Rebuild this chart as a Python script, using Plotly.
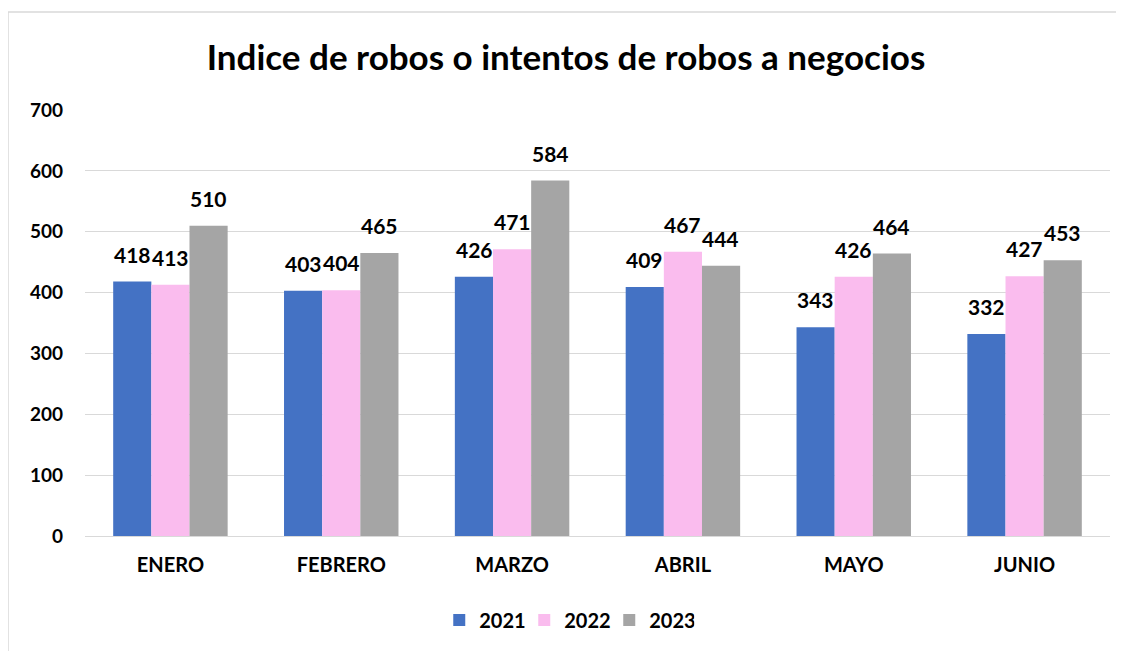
import plotly.graph_objects as go

meses = ['ENERO', 'FEBRERO', 'MARZO', 'ABRIL', 'MAYO', 'JUNIO']
robos_2021 = [418, 403, 426, 409, 343, 332]
robos_2022 = [413, 404, 471, 467, 426, 427]
robos_2023 = [510, 465, 584, 444, 464, 453]

series = [('2021', robos_2021, '#4472C4'),
          ('2022', robos_2022, '#FABCEE'),
          ('2023', robos_2023, '#A5A5A5')]

fuente = 'Lato'
ancho_barra = 38  # px, para centrar etiquetas sobre cada barra

fig = go.Figure()
for i, (nombre, valores, color) in enumerate(series):
    fig.add_trace(go.Bar(x=meses, y=valores, name='<b>' + nombre + '</b>',
                         marker=dict(color=color, line=dict(width=0))))
    for mes, v in zip(meses, valores):
        fig.add_annotation(x=mes, y=v, text='<b>' + str(v) + '</b>', showarrow=False,
                           xshift=(i - 1) * ancho_barra, yshift=13, yanchor='bottom',
                           font=dict(size=21, color='black', family=fuente))

# la pagina tiene un margen de 8px en el body, se compensa aqui
izq, der, arriba, abajo = 77, 14, 102, 115
ancho_plot = 1116 - izq - der
alto_plot = 643 - arriba - abajo

fig.update_layout(
    title=dict(text='<b>Indice de robos o intentos de robos a negocios</b>',
               x=0.5, xanchor='center', y=0.922, yanchor='middle',
               font=dict(size=35, color='black', family=fuente)),
    font=dict(family=fuente, size=19, color='black'),
    width=1116, height=643,
    margin=dict(l=izq, r=der, t=arriba, b=abajo),
    plot_bgcolor='white', paper_bgcolor='white',
    barmode='group', bargap=0.33, bargroupgap=0,
    legend=dict(orientation='h', x=0.47, xanchor='center', y=-0.197, yanchor='middle',
                font=dict(size=20, family=fuente), itemwidth=30, traceorder='normal',
                entrywidth=40, entrywidthmode='pixels'),
    xaxis=dict(showgrid=False, showline=False, ticks='', ticklabelstandoff=15,
               automargin=False, tickfont=dict(size=20, family=fuente),
               tickvals=meses, ticktext=['<b>' + m + '</b>' for m in meses]),
    yaxis=dict(range=[0, 700], showgrid=True, gridcolor='#D9D9D9',
               gridwidth=1, zeroline=True, zerolinecolor='#D9D9D9', zerolinewidth=1,
               showline=False, ticks='', ticklabelstandoff=21, automargin=False,
               tickfont=dict(size=19, family=fuente),
               tickvals=list(range(0, 701, 100)),
               ticktext=['<b>' + str(v) + '</b>' for v in range(0, 701, 100)]),
    shapes=[dict(type='rect', xref='paper', yref='paper',
                 x0=(0 - izq) / ancho_plot, x1=(1112 - izq) / ancho_plot,
                 y0=-0.4, y1=(643 - abajo - 4) / alto_plot,
                 line=dict(color='#D9D9D9', width=1.5), fillcolor='rgba(0,0,0,0)',
                 layer='below')]
)

fig.write_html("out.html")
